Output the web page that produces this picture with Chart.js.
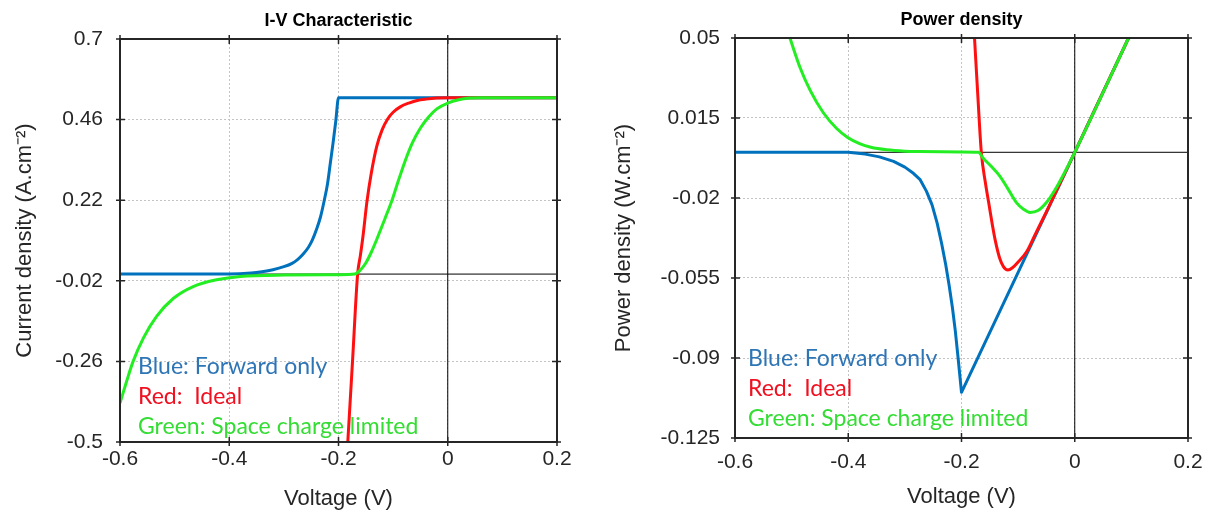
<!DOCTYPE html>
<html lang="en">
<head>
<meta charset="UTF-8">
<title>I-V Characteristic / Power density</title>
<script src="https://cdn.jsdelivr.net/npm/chart.js"></script>
<style>
    body, html {
        margin: 0;
        padding: 0;
        width: 100%;
        height: 100%;
        overflow: hidden;
        background: #fff;
    }
    .box {
        position: absolute;
        top: 0;
        height: 513px;
    }
    #leftBox { left: 0; width: 600px; }
    #rightBox { left: 600px; width: 618px; }
</style>
</head>
<body>
<div class="box" id="leftBox"><canvas id="ivChart"></canvas></div>
<div class="box" id="rightBox"><canvas id="powerChart"></canvas></div>

<script>
    // tick labels
    const voltTicks = [-0.6, -0.4, -0.2, 0, 0.2];
    const ivTicks = [-0.5, -0.26, -0.02, 0.22, 0.46, 0.7];
    const powerTicks = [-0.125, -0.09, -0.055, -0.02, 0.015, 0.05];

    // I-V characteristic, current density (A/cm2) vs voltage (V)
    const ivBlueV = [-0.6, -0.4, -0.36, -0.34, -0.32, -0.3, -0.285, -0.275, -0.265, -0.255, -0.248, -0.24, -0.233, -0.226, -0.22, -0.215, -0.21, -0.205, -0.2, 0.2];
    const ivBlueI = [0, 0, 0.003, 0.007, 0.013, 0.022, 0.032, 0.043, 0.059, 0.08, 0.101, 0.134, 0.17, 0.22, 0.27, 0.33, 0.39, 0.455, 0.525, 0.525];

    const ivRedV = [-0.183, -0.174, -0.165, -0.16, -0.155, -0.148, -0.14, -0.13, -0.12, -0.11, -0.1, -0.087, -0.07, -0.056, -0.04, -0.02, 0, 0.02, 0.2];
    const ivRedI = [-0.5, -0.25, 0, 0.055, 0.115, 0.215, 0.3, 0.38, 0.43, 0.462, 0.482, 0.498, 0.51, 0.517, 0.521, 0.524, 0.525, 0.525, 0.525];

    const ivGreenV = [-0.6, -0.588, -0.576, -0.557, -0.533, -0.502, -0.466, -0.423, -0.38, -0.3, -0.2, -0.17, -0.16, -0.15, -0.14, -0.13, -0.115, -0.102, -0.09, -0.078, -0.065, -0.05, -0.035, -0.02, 0, 0.02, 0.04, 0.06, 0.2];
    const ivGreenI = [-0.384, -0.32, -0.26, -0.19, -0.126, -0.072, -0.037, -0.017, -0.007, -0.003, -0.002, 0, 0.012, 0.033, 0.065, 0.103, 0.165, 0.22, 0.28, 0.337, 0.39, 0.435, 0.468, 0.492, 0.509, 0.519, 0.524, 0.525, 0.525];

    // power density (W/cm2) vs voltage (V)
    const pBlueV = [-0.6, -0.4, -0.37, -0.345, -0.32, -0.3, -0.285, -0.273, -0.262, -0.252, -0.243, -0.235, -0.228, -0.222, -0.216, -0.211, -0.206, -0.2, 0, 0.095];
    const pBlueP = [0, 0, -0.0008, -0.002, -0.004, -0.0065, -0.0092, -0.012, -0.017, -0.023, -0.031, -0.04, -0.049, -0.058, -0.068, -0.078, -0.09, -0.105, 0, 0.05];

    const pRedV = [-0.177, -0.171, -0.165, -0.158, -0.152, -0.146, -0.14, -0.133, -0.126, -0.118, -0.11, -0.1, -0.085, -0.07, -0.05, -0.03, 0, 0.095];
    const pRedP = [0.05, 0.024, 0, -0.013, -0.022, -0.031, -0.039, -0.046, -0.05, -0.0515, -0.0505, -0.048, -0.0435, -0.036, -0.026, -0.0157, 0, 0.05];

    const pGreenV = [-0.503, -0.485, -0.467, -0.444, -0.42, -0.401, -0.38, -0.36, -0.332, -0.3, -0.273, -0.2, -0.17, -0.162, -0.148, -0.132, -0.118, -0.103, -0.09, -0.079, -0.065, -0.05, -0.035, -0.02, 0, 0.095];
    const pGreenP = [0.05, 0.037, 0.027, 0.0173, 0.0103, 0.0065, 0.0038, 0.0022, 0.0011, 0.0005, 0.0003, 0.0001, 0, -0.0025, -0.006, -0.0105, -0.016, -0.022, -0.025, -0.0263, -0.0255, -0.022, -0.0165, -0.0098, 0, 0.05];

    const BLUE = '#0072bd';
    const RED = '#ff1010';
    const GREEN = '#22ee22';
    const INK = '#262626';

    Chart.defaults.font.family = "'Liberation Sans', Arial, sans-serif";
    Chart.defaults.color = INK;

    const notes = [
        { text: 'Blue: Forward only', color: '#2e75b6' },
        { text: 'Red:  Ideal', color: '#f01020' },
        { text: 'Green: Space charge limited', color: '#33dd33' }
    ];

    function pts(xs, ys) {
        return xs.map((v, i) => ({ x: v, y: ys[i] }));
    }

    function series(label, xs, ys, color, order, smooth) {
        return {
            label: label,
            data: pts(xs, ys),
            borderColor: color,
            backgroundColor: color,
            borderWidth: 3,
            pointRadius: 0,
            order: order,
            tension: 0,
            cubicInterpolationMode: smooth ? 'monotone' : 'default',
            borderJoinStyle: 'round'
        };
    }

    // box, crossing ticks, zero lines, title and coloured notes
    const framePlugin = {
        id: 'frame',
        beforeDatasetsDraw(chart) {
            const { ctx, chartArea: a, scales: { x, y } } = chart;
            const x0 = x.getPixelForValue(0);
            const y0 = y.getPixelForValue(0);
            ctx.save();
            ctx.strokeStyle = '#000';
            ctx.lineWidth = 1;
            ctx.beginPath();
            ctx.moveTo(a.left, y0); ctx.lineTo(a.right, y0);
            ctx.moveTo(x0, a.top); ctx.lineTo(x0, a.bottom);
            ctx.stroke();
            ctx.restore();
        },
        afterDatasetsDraw(chart, args, opts) {
            const { ctx, chartArea: a, scales: { x, y } } = chart;
            ctx.save();
            ctx.strokeStyle = INK;
            ctx.lineWidth = 2;
            ctx.strokeRect(a.left, a.top, a.right - a.left, a.bottom - a.top);
            ctx.lineWidth = 1.5;
            ctx.beginPath();
            x.ticks.forEach(t => {
                const px = x.getPixelForValue(t.value);
                ctx.moveTo(px, a.bottom + 4); ctx.lineTo(px, a.bottom - 5);
                ctx.moveTo(px, a.top - 4); ctx.lineTo(px, a.top + 5);
            });
            y.ticks.forEach(t => {
                const py = y.getPixelForValue(t.value);
                ctx.moveTo(a.left - 4, py); ctx.lineTo(a.left + 5, py);
                ctx.moveTo(a.right + 4, py); ctx.lineTo(a.right - 5, py);
            });
            ctx.stroke();

            ctx.fillStyle = '#000';
            ctx.font = "bold 18px 'Liberation Sans', Arial, sans-serif";
            ctx.textAlign = 'center';
            ctx.textBaseline = 'middle';
            ctx.fillText(opts.title, (a.left + a.right) / 2, a.top - 18);

            ctx.font = "23px Lato, 'Open Sans', sans-serif";
            ctx.textAlign = 'left';
            notes.forEach((n, i) => {
                ctx.fillStyle = n.color;
                ctx.fillText(n.text, a.left + opts.noteX, a.bottom - opts.noteY + i * 30);
            });
            ctx.restore();
        }
    };

    function makeChart(id, cfg) {
        const yt = cfg.yTicks;
        return new Chart(document.getElementById(id), {
            type: 'line',
            data: { datasets: cfg.datasets },
            plugins: [framePlugin],
            options: {
                responsive: true,
                maintainAspectRatio: false,
                animation: false,
                layout: { padding: { left: 0, top: cfg.top, right: cfg.right, bottom: 0 } },
                plugins: {
                    legend: { display: false },
                    tooltip: { enabled: false },
                    frame: { title: cfg.title, noteX: cfg.noteX, noteY: cfg.noteY }
                },
                scales: {
                    x: {
                        type: 'linear',
                        min: voltTicks[0],
                        max: voltTicks[voltTicks.length - 1],
                        afterBuildTicks: ax => { ax.ticks = voltTicks.map(v => ({ value: v })); },
                        afterFit: ax => { ax.height = cfg.xHeight; },
                        grid: { color: '#c4c4c4', lineWidth: 1, drawTicks: false },
                        border: { display: false, dash: [2, 2] },
                        ticks: { padding: cfg.xLabelPad, font: { size: 21 }, color: INK, maxRotation: 0, autoSkip: false, callback: v => String(v) },
                        title: { display: true, text: 'Voltage (V)', font: { size: 22 }, color: INK, padding: { top: 0, bottom: cfg.xTitlePad } }
                    },
                    y: {
                        type: 'linear',
                        min: yt[0],
                        max: yt[yt.length - 1],
                        afterBuildTicks: ax => { ax.ticks = yt.map(v => ({ value: v })); },
                        afterFit: ax => { ax.width = cfg.yWidth; },
                        grid: { color: '#c4c4c4', lineWidth: 1, drawTicks: false },
                        border: { display: false, dash: [2, 2] },
                        ticks: { padding: cfg.yLabelPad, font: { size: 21 }, color: INK, autoSkip: false, callback: v => String(v) },
                        title: { display: true, text: cfg.yTitle, font: { size: 22 }, color: INK, padding: { top: cfg.yTitlePad, bottom: 0 } }
                    }
                }
            }
        });
    }

    makeChart('ivChart', {
        title: 'I-V Characteristic',
        yTicks: ivTicks,
        yTitle: 'Current density (A.cm\u207B\u00B2)',
        datasets: [
            series('Blue: Forward only', ivBlueV, ivBlueI, BLUE, 3, true),
            series('Red: Ideal', ivRedV, ivRedI, RED, 2, true),
            series('Green: Space charge limited', ivGreenV, ivGreenI, GREEN, 1, true)
        ],
        top: 39, right: 43, yWidth: 120, xHeight: 71,
        xLabelPad: 5, xTitlePad: 1, yLabelPad: 17, yTitlePad: 12,
        noteX: 18, noteY: 75
    });

    makeChart('powerChart', {
        title: 'Power density',
        yTicks: powerTicks,
        yTitle: 'Power density (W.cm\u207B\u00B2)',
        datasets: [
            series('Blue: Forward only', pBlueV, pBlueP, BLUE, 3, false),
            series('Red: Ideal', pRedV, pRedP, RED, 2, true),
            series('Green: Space charge limited', pGreenV, pGreenP, GREEN, 1, true)
        ],
        top: 38, right: 30, yWidth: 135, xHeight: 75,
        xLabelPad: 12, xTitlePad: 3, yLabelPad: 15, yTitlePad: 11,
        noteX: 13, noteY: 79
    });
</script>
</body>
</html>
